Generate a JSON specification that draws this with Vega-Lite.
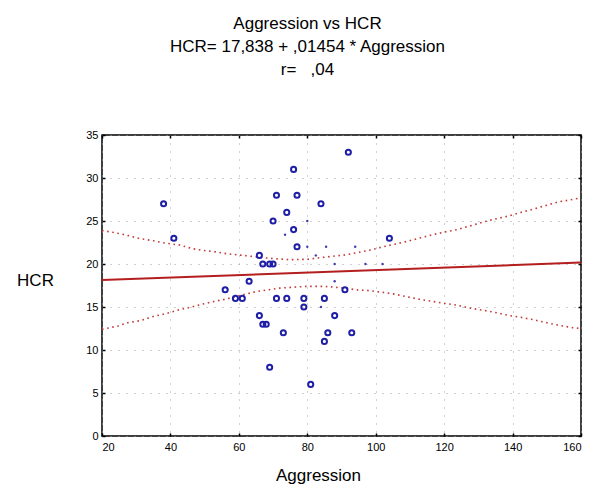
{
  "$schema": "https://vega.github.io/schema/vega-lite/v6.json",
  "autosize": "none",
  "width": 479,
  "height": 301,
  "padding": {"left": 102, "top": 135, "right": 10, "bottom": 49},
  "background": "white",
  "config": {
    "view": {"stroke": "black", "strokeWidth": 1.5},
    "font": "Liberation Sans",
    "axis": {
      "labelFont": "Liberation Sans",
      "labelFontSize": 11,
      "labelColor": "black",
      "titleFont": "Liberation Sans",
      "titleFontWeight": "normal",
      "titleFontSize": 17,
      "titleColor": "black",
      "domain": false,
      "tickColor": "black",
      "tickSize": -3,
      "tickWidth": 1.5,
      "gridColor": "#a0a0a0",
      "gridDash": [1, 7],
      "gridWidth": 1
    }
  },
  "title": {
    "text": ["Aggression vs HCR", "HCR= 17,838 + ,01454 * Aggression", "r= \u00a0 ,04"],
    "font": "Liberation Sans",
    "fontSize": 17,
    "fontWeight": "normal",
    "color": "black",
    "anchor": "middle",
    "frame": "group",
    "dx": -34,
    "dy": -25,
    "lineHeight": 23,
    "offset": 25
  },
  "datasets": {
    "points": [
      {"Aggression": 38, "HCR": 27}, {"Aggression": 41, "HCR": 23}, {"Aggression": 92, "HCR": 33},
      {"Aggression": 76, "HCR": 31}, {"Aggression": 71, "HCR": 28}, {"Aggression": 77, "HCR": 28},
      {"Aggression": 84, "HCR": 27}, {"Aggression": 74, "HCR": 26}, {"Aggression": 70, "HCR": 25},
      {"Aggression": 76, "HCR": 24}, {"Aggression": 77, "HCR": 22}, {"Aggression": 104, "HCR": 23},
      {"Aggression": 66, "HCR": 21}, {"Aggression": 67, "HCR": 20}, {"Aggression": 69, "HCR": 20},
      {"Aggression": 70, "HCR": 20}, {"Aggression": 63, "HCR": 18}, {"Aggression": 56, "HCR": 17},
      {"Aggression": 59, "HCR": 16}, {"Aggression": 61, "HCR": 16}, {"Aggression": 71, "HCR": 16},
      {"Aggression": 74, "HCR": 16}, {"Aggression": 79, "HCR": 16}, {"Aggression": 85, "HCR": 16},
      {"Aggression": 79, "HCR": 15}, {"Aggression": 66, "HCR": 14}, {"Aggression": 67, "HCR": 13},
      {"Aggression": 68, "HCR": 13}, {"Aggression": 88, "HCR": 14}, {"Aggression": 73, "HCR": 12},
      {"Aggression": 86, "HCR": 12}, {"Aggression": 93, "HCR": 12}, {"Aggression": 85, "HCR": 11},
      {"Aggression": 69, "HCR": 8}, {"Aggression": 81, "HCR": 6}, {"Aggression": 91, "HCR": 17}
    ],
    "faint": [
      {"Aggression": 80, "HCR": 25}, {"Aggression": 80, "HCR": 22}, {"Aggression": 85.5, "HCR": 22},
      {"Aggression": 94, "HCR": 22}, {"Aggression": 82.5, "HCR": 21}, {"Aggression": 88, "HCR": 20},
      {"Aggression": 97, "HCR": 20}, {"Aggression": 102, "HCR": 20}, {"Aggression": 88, "HCR": 18},
      {"Aggression": 84, "HCR": 15}, {"Aggression": 73.5, "HCR": 23.4}
    ],
    "fit": [
      {"Aggression": 20, "HCR": 18.13}, {"Aggression": 160, "HCR": 20.16}
    ],
    "bands": [
      {"Aggression": 20, "HCR": 23.9, "side": "upper"}, {"Aggression": 24.3, "HCR": 23.6, "side": "upper"},
      {"Aggression": 27.7, "HCR": 23.3, "side": "upper"}, {"Aggression": 30.6, "HCR": 23.0, "side": "upper"},
      {"Aggression": 35, "HCR": 22.7, "side": "upper"}, {"Aggression": 38.9, "HCR": 22.4, "side": "upper"},
      {"Aggression": 42.8, "HCR": 22.2, "side": "upper"}, {"Aggression": 46.2, "HCR": 21.8, "side": "upper"},
      {"Aggression": 49.1, "HCR": 21.6, "side": "upper"}, {"Aggression": 53.4, "HCR": 21.4, "side": "upper"},
      {"Aggression": 56.4, "HCR": 21.2, "side": "upper"}, {"Aggression": 61.2, "HCR": 21.0, "side": "upper"},
      {"Aggression": 68, "HCR": 20.7, "side": "upper"}, {"Aggression": 74.8, "HCR": 20.5, "side": "upper"},
      {"Aggression": 80.2, "HCR": 20.55, "side": "upper"}, {"Aggression": 84, "HCR": 20.75, "side": "upper"},
      {"Aggression": 87.5, "HCR": 20.9, "side": "upper"}, {"Aggression": 90.9, "HCR": 21.05, "side": "upper"},
      {"Aggression": 94.3, "HCR": 21.3, "side": "upper"}, {"Aggression": 98.2, "HCR": 21.6, "side": "upper"},
      {"Aggression": 102.1, "HCR": 22.0, "side": "upper"}, {"Aggression": 105.5, "HCR": 22.3, "side": "upper"},
      {"Aggression": 108.9, "HCR": 22.6, "side": "upper"}, {"Aggression": 112.7, "HCR": 23.0, "side": "upper"},
      {"Aggression": 116.6, "HCR": 23.4, "side": "upper"}, {"Aggression": 120.5, "HCR": 23.75, "side": "upper"},
      {"Aggression": 123.9, "HCR": 24.0, "side": "upper"}, {"Aggression": 127.3, "HCR": 24.4, "side": "upper"},
      {"Aggression": 130.7, "HCR": 24.8, "side": "upper"}, {"Aggression": 134.6, "HCR": 25.2, "side": "upper"},
      {"Aggression": 139, "HCR": 25.6, "side": "upper"}, {"Aggression": 142.4, "HCR": 26.0, "side": "upper"},
      {"Aggression": 146.3, "HCR": 26.4, "side": "upper"}, {"Aggression": 149.7, "HCR": 26.8, "side": "upper"},
      {"Aggression": 153.1, "HCR": 27.2, "side": "upper"}, {"Aggression": 157.5, "HCR": 27.5, "side": "upper"},
      {"Aggression": 160, "HCR": 27.7, "side": "upper"},
      {"Aggression": 20, "HCR": 12.4, "side": "lower"}, {"Aggression": 24.8, "HCR": 12.8, "side": "lower"},
      {"Aggression": 27.7, "HCR": 13.2, "side": "lower"}, {"Aggression": 31.1, "HCR": 13.4, "side": "lower"},
      {"Aggression": 35, "HCR": 13.9, "side": "lower"}, {"Aggression": 38.4, "HCR": 14.2, "side": "lower"},
      {"Aggression": 42.3, "HCR": 14.65, "side": "lower"}, {"Aggression": 46.2, "HCR": 15.0, "side": "lower"},
      {"Aggression": 49.5, "HCR": 15.35, "side": "lower"}, {"Aggression": 53.4, "HCR": 15.7, "side": "lower"},
      {"Aggression": 56, "HCR": 15.9, "side": "lower"}, {"Aggression": 60.5, "HCR": 16.35, "side": "lower"},
      {"Aggression": 65.1, "HCR": 16.8, "side": "lower"}, {"Aggression": 71.9, "HCR": 17.2, "side": "lower"},
      {"Aggression": 79.7, "HCR": 17.4, "side": "lower"}, {"Aggression": 85, "HCR": 17.4, "side": "lower"},
      {"Aggression": 90.9, "HCR": 17.2, "side": "lower"}, {"Aggression": 94.3, "HCR": 17.0, "side": "lower"},
      {"Aggression": 98.2, "HCR": 16.9, "side": "lower"}, {"Aggression": 102.1, "HCR": 16.7, "side": "lower"},
      {"Aggression": 105.5, "HCR": 16.5, "side": "lower"}, {"Aggression": 108.9, "HCR": 16.2, "side": "lower"},
      {"Aggression": 112.7, "HCR": 15.9, "side": "lower"}, {"Aggression": 116.6, "HCR": 15.65, "side": "lower"},
      {"Aggression": 120.5, "HCR": 15.4, "side": "lower"}, {"Aggression": 123.9, "HCR": 15.2, "side": "lower"},
      {"Aggression": 127.8, "HCR": 14.85, "side": "lower"}, {"Aggression": 131.7, "HCR": 14.6, "side": "lower"},
      {"Aggression": 134.6, "HCR": 14.4, "side": "lower"}, {"Aggression": 139, "HCR": 14.0, "side": "lower"},
      {"Aggression": 142.4, "HCR": 13.8, "side": "lower"}, {"Aggression": 146.3, "HCR": 13.5, "side": "lower"},
      {"Aggression": 149.7, "HCR": 13.2, "side": "lower"}, {"Aggression": 153.1, "HCR": 12.9, "side": "lower"},
      {"Aggression": 157.5, "HCR": 12.6, "side": "lower"}, {"Aggression": 160, "HCR": 12.5, "side": "lower"}
    ]
  },
  "resolve": {"axis": {"x": "independent", "y": "independent"}},
  "layer": [
    {
      "data": {"name": "bands"},
      "mark": {"type": "line", "color": "#c23a3a", "strokeWidth": 1.6, "strokeDash": [1.6, 3.6]},
      "encoding": {
        "x": {"field": "Aggression", "type": "quantitative",
              "scale": {"domain": [20, 160], "nice": false, "zero": false},
              "axis": {"orient": "bottom", "values": [20, 40, 60, 80, 100, 120, 140, 160], "grid": true,
                       "labelPadding": 8, "title": "Aggression", "titleX": 216, "titleY": 39,
                       "titleAlign": "center", "titleBaseline": "middle"}},
        "y": {"field": "HCR", "type": "quantitative",
              "scale": {"domain": [0, 35], "nice": false, "zero": false},
              "axis": {"orient": "left", "values": [0, 5, 10, 15, 20, 25, 30, 35], "grid": true,
                       "labelPadding": 7, "title": "HCR", "titleAngle": 0, "titleX": -67, "titleY": 145,
                       "titleAlign": "center", "titleBaseline": "middle"}},
        "detail": {"field": "side", "type": "nominal"}
      }
    },
    {
      "data": {"name": "fit"},
      "mark": {"type": "line", "color": "#b41e1e", "strokeWidth": 2},
      "encoding": {
        "x": {"field": "Aggression", "type": "quantitative",
              "axis": {"orient": "top", "values": [20, 40, 60, 80, 100, 120, 140, 160], "labels": false, "grid": false, "title": null}},
        "y": {"field": "HCR", "type": "quantitative",
              "axis": {"orient": "right", "values": [0, 5, 10, 15, 20, 25, 30, 35], "labels": false, "grid": false, "title": null}}
      }
    },
    {
      "data": {"name": "faint"},
      "mark": {"type": "point", "shape": "circle", "filled": true, "color": "#2a2aa8", "size": 6, "opacity": 0.9},
      "encoding": {
        "x": {"field": "Aggression", "type": "quantitative", "axis": null},
        "y": {"field": "HCR", "type": "quantitative", "axis": null}
      }
    },
    {
      "data": {"name": "points"},
      "mark": {"type": "point", "shape": "circle", "filled": false, "color": "#1e1ea6", "size": 26, "strokeWidth": 2, "opacity": 1},
      "encoding": {
        "x": {"field": "Aggression", "type": "quantitative", "axis": null},
        "y": {"field": "HCR", "type": "quantitative", "axis": null}
      }
    }
  ]
}
